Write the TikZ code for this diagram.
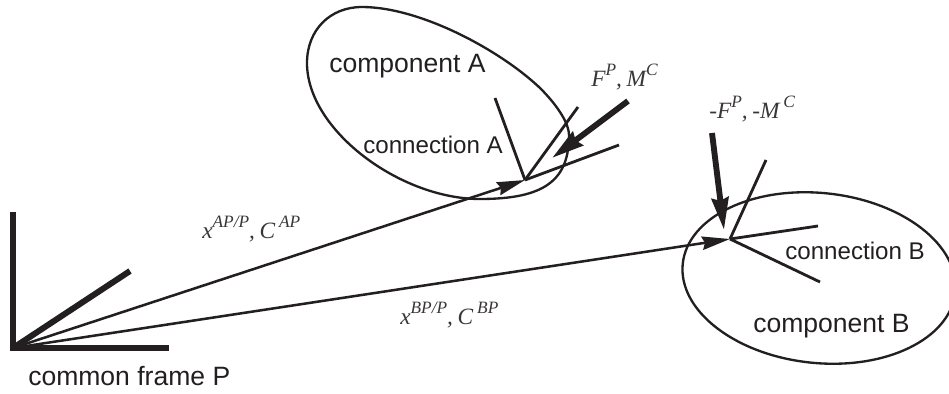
\documentclass[tikz,border=0pt]{standalone}
\usepackage{fontspec}
\setmainfont{Liberation Sans}
\newfontfamily\mathlabel{Liberation Serif}
\usetikzlibrary{arrows.meta}
\definecolor{ink}{HTML}{231F20}
\definecolor{mathink}{HTML}{3A3637}
\newcommand{\upsc}[1]{\raisebox{8pt}{\fontsize{13}{14}\selectfont\itshape #1}}
\newcommand{\cm}{,\kern3.5pt}
\tikzset{
  outline/.style={draw=ink,line width=1.75pt},
  axisbar/.style={draw=ink,line width=4pt,line cap=butt,miter limit=10},
  thinaxis/.style={draw=ink,line width=2.1pt},
  posarrow/.style={draw=ink,line width=1.9pt,-{Stealth[length=21pt,width=10pt,inset=2pt]}},
  forcearrow/.style={draw=ink,line width=4.4pt,-{Stealth[length=24pt,width=12.5pt,inset=2pt]}},
  biglabel/.style={anchor=base west,inner sep=0pt,text=ink,font=\fontsize{19.9}{22}\selectfont},
  midlabel/.style={anchor=base west,inner sep=0pt,text=ink,font=\fontsize{18.1}{20}\selectfont},
  mathtext/.style={anchor=base west,inner sep=0pt,text=mathink,font=\mathlabel\fontsize{17.5}{20}\selectfont\itshape},
}
\begin{document}
\begin{tikzpicture}[x=0.75pt,y=-0.75pt]
\useasboundingbox (0,0) rectangle (949,393);
\coordinate (P) at (13,348);
\coordinate (Pz) at (13,212);
\coordinate (Py) at (130,271);
\coordinate (Px) at (169,348);
\coordinate (CA) at (525,180);
\coordinate (CAu) at (495,98);
\coordinate (CAv) at (578,107);
\coordinate (CAw) at (619,145);
\coordinate (CB) at (730,239);
\coordinate (CBu) at (766,160);
\coordinate (CBv) at (818,226);
\coordinate (CBw) at (820,282);
\coordinate (FAs) at (628,101);
\coordinate (FAe) at (552,158);
\coordinate (FBs) at (712,133);
\coordinate (FBe) at (724,230);
\coordinate (BC) at (819,278);
% component outlines
\draw[outline] (307,63) .. controls (307,30) and (330,7) .. (362,7)
  .. controls (420,7) and (500,50) .. (540,88)
  .. controls (560,108) and (569,125) .. (569,135)
  .. controls (569,180) and (545,199) .. (480,199)
  .. controls (400,199) and (307,130) .. (307,63) -- cycle;
\draw[outline,rotate around={-6:(BC)}] (BC) ellipse[x radius=137,y radius=85];
% common frame
\draw[axisbar] (Pz) -- (P) -- (Px);
\draw[axisbar,line width=4.5pt] (P) -- (Py);
% position vectors
\draw[posarrow] (P) -- (CA);
\draw[posarrow] (P) -- (CB);
% connection frames
\draw[thinaxis] (CA) -- (CAu);
\draw[thinaxis] (CA) -- (CAv);
\draw[thinaxis] (CA) -- (CAw);
\draw[thinaxis] (CB) -- (CBu);
\draw[thinaxis] (CB) -- (CBv);
\draw[thinaxis] (CB) -- (CBw);
% forces
\draw[forcearrow] (FAs) -- (FAe);
\draw[forcearrow] (FBs) -- (FBe);
% labels
\node[biglabel] (compA) at (329,72) {component A};
\node[midlabel] (connA) at (363,153) {connection A};
\node[midlabel] (connB) at (785,259) {connection B};
\node[biglabel] (compB) at (753,332) {component B};
\node[biglabel] (common) at (28,385) {common frame P};
\node[mathtext] (loadA) at (591,86) {F\upsc{P}\cm M\upsc{C}};
\node[mathtext] (loadB) at (709,118) {-F\upsc{P}\cm -M\,\upsc{C}};
\node[mathtext] (posA) at (202,238) {x\upsc{AP/P}\cm C\,\upsc{AP}};
\node[mathtext] (posB) at (400,324) {x\upsc{BP/P}\cm C\,\upsc{BP}};
\end{tikzpicture}
\end{document}
